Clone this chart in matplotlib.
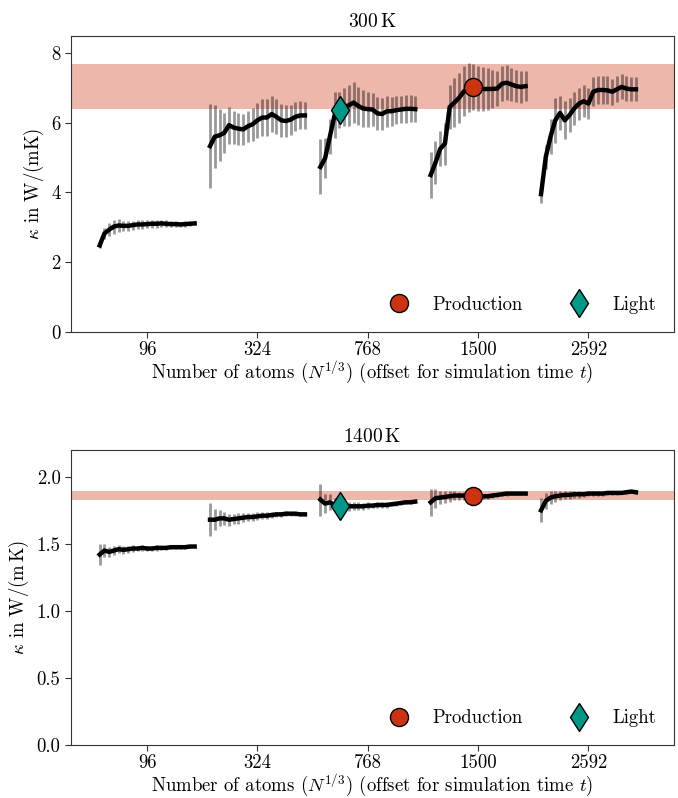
import numpy as np
import matplotlib
matplotlib.use("Agg")
import matplotlib.pyplot as plt

plt.rcParams.update({
    "font.family": "serif",
    "font.serif": ["cmr10"],
    "mathtext.fontset": "cm",
    "axes.formatter.use_mathtext": True,
    "axes.unicode_minus": False,
    "font.size": 13.5,
})

# ---------------- data ----------------
n_atoms = [96, 324, 768, 1500, 2592]
tick_pos = [4, 6, 8, 10, 12]          # N^(1/3) in units of the 1.5-atom cell
t_norm = np.linspace(0.0, 1.0, 21)    # normalised simulation time within each block
t_span = 1.72                          # x-width used for the time offset

# 300 K
k300 = [
    [2.48, 2.82, 2.93, 3.02, 3.05, 3.04, 3.04, 3.06, 3.08, 3.08, 3.09, 3.10, 3.10, 3.11, 3.10, 3.09, 3.09, 3.08, 3.09, 3.10, 3.11],
    [5.33, 5.60, 5.64, 5.71, 5.93, 5.86, 5.83, 5.81, 5.90, 5.96, 6.07, 6.15, 6.15, 6.25, 6.17, 6.07, 6.05, 6.09, 6.17, 6.21, 6.21],
    [4.73, 4.98, 5.60, 6.22, 6.36, 6.46, 6.50, 6.58, 6.48, 6.41, 6.39, 6.38, 6.27, 6.25, 6.33, 6.33, 6.36, 6.38, 6.40, 6.40, 6.39],
    [4.50, 4.85, 5.25, 5.40, 6.45, 6.58, 6.72, 6.90, 7.02, 7.03, 6.98, 6.97, 6.97, 6.97, 6.98, 7.12, 7.15, 7.10, 7.05, 7.03, 7.05],
    [3.95, 5.02, 5.60, 6.07, 6.28, 6.07, 6.22, 6.41, 6.55, 6.62, 6.55, 6.89, 6.94, 6.94, 6.93, 6.89, 6.96, 7.03, 6.98, 6.96, 6.96],
]
e300 = [
    [0.08, 0.15, 0.18, 0.20, 0.18, 0.15, 0.14, 0.13, 0.12, 0.12, 0.12, 0.11, 0.11, 0.10, 0.10, 0.09, 0.09, 0.08, 0.08, 0.07, 0.06],
    [1.20, 0.90, 0.75, 0.57, 0.53, 0.48, 0.46, 0.45, 0.45, 0.47, 0.50, 0.52, 0.52, 0.52, 0.50, 0.48, 0.45, 0.43, 0.42, 0.40, 0.38],
    [0.79, 0.57, 0.50, 0.65, 0.52, 0.55, 0.58, 0.60, 0.55, 0.52, 0.50, 0.48, 0.47, 0.45, 0.44, 0.42, 0.41, 0.40, 0.40, 0.39, 0.38],
    [0.67, 0.62, 0.50, 0.60, 0.62, 0.70, 0.72, 0.72, 0.70, 0.65, 0.65, 0.63, 0.60, 0.55, 0.50, 0.50, 0.50, 0.48, 0.46, 0.45, 0.44],
    [0.25, 0.35, 0.50, 0.65, 0.50, 0.55, 0.50, 0.48, 0.46, 0.45, 0.45, 0.42, 0.40, 0.40, 0.40, 0.38, 0.37, 0.36, 0.35, 0.35, 0.34],
]

# 1400 K
k1400 = [
    [1.42, 1.45, 1.44, 1.45, 1.46, 1.455, 1.46, 1.465, 1.465, 1.47, 1.465, 1.465, 1.47, 1.47, 1.47, 1.475, 1.475, 1.475, 1.475, 1.48, 1.48],
    [1.68, 1.68, 1.69, 1.69, 1.68, 1.685, 1.69, 1.695, 1.70, 1.70, 1.705, 1.71, 1.71, 1.715, 1.72, 1.72, 1.725, 1.725, 1.725, 1.72, 1.72],
    [1.83, 1.80, 1.81, 1.79, 1.78, 1.78, 1.78, 1.78, 1.78, 1.78, 1.785, 1.785, 1.79, 1.79, 1.79, 1.795, 1.80, 1.805, 1.81, 1.81, 1.815],
    [1.81, 1.84, 1.845, 1.85, 1.855, 1.86, 1.86, 1.86, 1.86, 1.86, 1.86, 1.855, 1.855, 1.86, 1.865, 1.87, 1.875, 1.875, 1.875, 1.875, 1.875],
    [1.75, 1.82, 1.845, 1.855, 1.86, 1.865, 1.865, 1.87, 1.87, 1.87, 1.875, 1.875, 1.875, 1.875, 1.88, 1.88, 1.88, 1.88, 1.885, 1.89, 1.885],
]
e1400 = [
    [0.08, 0.05, 0.04, 0.035, 0.03, 0.03, 0.025, 0.025, 0.02, 0.02, 0.02, 0.02, 0.02, 0.015, 0.015, 0.015, 0.015, 0.015, 0.01, 0.01, 0.01],
    [0.125, 0.08, 0.06, 0.05, 0.045, 0.04, 0.04, 0.035, 0.03, 0.03, 0.03, 0.025, 0.025, 0.025, 0.02, 0.02, 0.02, 0.015, 0.015, 0.015, 0.01],
    [0.12, 0.07, 0.06, 0.05, 0.045, 0.04, 0.035, 0.03, 0.03, 0.025, 0.025, 0.02, 0.02, 0.02, 0.02, 0.015, 0.015, 0.015, 0.01, 0.01, 0.01],
    [0.10, 0.07, 0.05, 0.045, 0.04, 0.035, 0.03, 0.03, 0.025, 0.025, 0.02, 0.02, 0.02, 0.02, 0.015, 0.015, 0.015, 0.01, 0.01, 0.01, 0.01],
    [0.09, 0.06, 0.05, 0.04, 0.035, 0.03, 0.03, 0.025, 0.025, 0.02, 0.02, 0.02, 0.02, 0.015, 0.015, 0.015, 0.015, 0.01, 0.01, 0.01, 0.01],
]

temperatures = ["300", "1400"]
bands = [(6.39, 7.68), (1.825, 1.895)]
ylims = [(0, 8.5), (0, 2.2)]
yticks = [[0, 2, 4, 6, 8], [0.0, 0.5, 1.0, 1.5, 2.0]]
ytick_labels = [["0", "2", "4", "6", "8"], ["0.0", "0.5", "1.0", "1.5", "2.0"]]
ylabels = [r"$\kappa$ in W/(mK)", r"$\kappa$ in W/(m$\,$K)"]

# reference settings: (group index, time offset, kappa) per temperature
production = [(3, 0.45, 7.03), (3, 0.45, 1.858)]
light = [(2, 0.21, 6.36), (2, 0.21, 1.783)]

red = "#CC3311"
teal = "#009988"

fig = plt.figure(figsize=(6.78, 7.98), dpi=100)
axes = [fig.add_axes([0.1047, 0.5843, 0.8894, 0.3710]),
        fig.add_axes([0.1047, 0.0665, 0.8894, 0.3696])]

for i, ax in enumerate(axes):
    kap = k300 if i == 0 else k1400
    err = e300 if i == 0 else e1400
    ax.axhspan(bands[i][0], bands[i][1], color=red, alpha=0.35, lw=0, zorder=0)
    for g in range(5):
        x = tick_pos[g] + (t_norm - 0.5) * t_span
        ax.errorbar(x, kap[g], yerr=err[g], fmt="none", ecolor="black",
                    alpha=0.4, elinewidth=2.0, capsize=0, zorder=1)
        ax.plot(x, kap[g], color="black", lw=3.2, zorder=2)
    pg, pt, pk = production[i]
    lg, lt, lk = light[i]
    ax.plot(tick_pos[pg] + (pt - 0.5) * t_span, pk, "o", ms=13, mfc=red,
            mec="black", mew=1.0, zorder=4, label="Production")
    ax.plot(tick_pos[lg] + (lt - 0.5) * t_span, lk, "d", ms=14.5, mfc=teal,
            mec="black", mew=1.0, zorder=4, label="Light")
    ax.set_xlim(2.62, 13.55)
    ax.set_ylim(*ylims[i])
    ax.set_yticks(yticks[i])
    ax.set_yticklabels(ytick_labels[i])
    ax.set_xticks(tick_pos)
    ax.set_xticklabels([str(n) for n in n_atoms])
    ax.set_xlabel(r"Number of atoms ($N^{1/3}$) (offset for simulation time $t$)",
                  labelpad=0.5)
    ax.set_ylabel(ylabels[i])
    ax.set_title(temperatures[i] + r"$\,$K", fontsize=14)
    for s in ax.spines.values():
        s.set_color("#333333")
    ax.tick_params(direction="out", length=4, color="#333333")
    ax.tick_params(axis="x", pad=2.5)
    ax.legend(loc="lower right", ncol=2, frameon=False, columnspacing=2.0,
              handletextpad=0.78, bbox_to_anchor=(1.0, 0.0), borderaxespad=0.55)

fig.savefig("out.png", dpi=100)
